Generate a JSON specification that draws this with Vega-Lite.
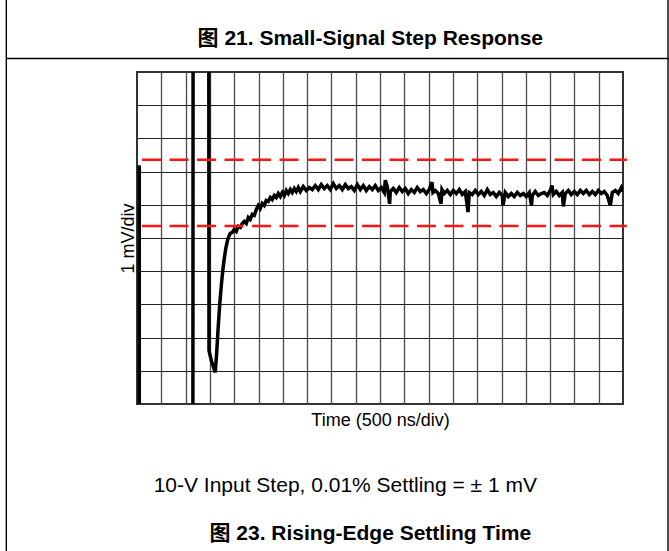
{
  "$schema": "https://vega.github.io/schema/vega-lite/v6.json",
  "width": 486,
  "height": 332,
  "autosize": {"type": "none"},
  "padding": {"left": 137, "top": 72, "right": 46, "bottom": 147},
  "background": "white",
  "config": {
    "view": {"stroke": "#333333", "strokeWidth": 2},
    "font": "Liberation Sans, Noto Sans CJK SC"
  },
  "data": {"values": [{"item": "annotation"}]},
  "datasets": {
    "trace": [
      {"t": 1.150, "mV": -7.0}, {"t": 1.154, "mV": 4.5}, {"t": 1.477, "mV": 4.5},
      {"t": 1.481, "mV": -4.75}, {"t": 1.529, "mV": -5.05}, {"t": 1.570, "mV": -5.23}, {"t": 1.611, "mV": -5.41},
      {"t": 1.642, "mV": -4.75}, {"t": 1.673, "mV": -3.99}, {"t": 1.704, "mV": -3.33}, {"t": 1.735, "mV": -2.79},
      {"t": 1.765, "mV": -2.34}, {"t": 1.796, "mV": -1.98}, {"t": 1.827, "mV": -1.67}, {"t": 1.858, "mV": -1.46},
      {"t": 1.889, "mV": -1.31}, {"t": 1.920, "mV": -1.22}, {"t": 1.961, "mV": -1.19}, {"t": 2.002, "mV": -1.10},
      {"t": 2.043, "mV": -1.16}, {"t": 2.084, "mV": -1.01}, {"t": 2.126, "mV": -1.04}, {"t": 2.167, "mV": -0.92},
      {"t": 2.208, "mV": -0.86}, {"t": 2.249, "mV": -0.92}, {"t": 2.290, "mV": -0.74}, {"t": 2.331, "mV": -0.80},
      {"t": 2.372, "mV": -0.65}, {"t": 2.414, "mV": -0.68}, {"t": 2.455, "mV": -0.50}, {"t": 2.496, "mV": -0.38},
      {"t": 2.537, "mV": -0.47}, {"t": 2.578, "mV": -0.32}, {"t": 2.619, "mV": -0.38}, {"t": 2.660, "mV": -0.23},
      {"t": 2.702, "mV": -0.26}, {"t": 2.743, "mV": -0.14}, {"t": 2.784, "mV": -0.20}, {"t": 2.825, "mV": -0.08},
      {"t": 2.866, "mV": -0.14}, {"t": 2.907, "mV": -0.02}, {"t": 2.949, "mV": -0.11}, {"t": 2.990, "mV": 0.01},
      {"t": 3.031, "mV": -0.08}, {"t": 3.072, "mV": 0.07}, {"t": 3.113, "mV": -0.02}, {"t": 3.154, "mV": 0.10},
      {"t": 3.195, "mV": 0.01}, {"t": 3.237, "mV": 0.13}, {"t": 3.278, "mV": 0.04}, {"t": 3.319, "mV": 0.16},
      {"t": 3.360, "mV": 0.04}, {"t": 3.422, "mV": 0.19}, {"t": 3.484, "mV": 0.07}, {"t": 3.545, "mV": 0.16},
      {"t": 3.607, "mV": 0.10}, {"t": 3.669, "mV": 0.22}, {"t": 3.730, "mV": 0.10}, {"t": 3.792, "mV": 0.25},
      {"t": 3.854, "mV": 0.13}, {"t": 3.916, "mV": 0.22}, {"t": 3.977, "mV": 0.10}, {"t": 4.039, "mV": 0.28},
      {"t": 4.101, "mV": 0.13}, {"t": 4.163, "mV": 0.22}, {"t": 4.224, "mV": 0.10}, {"t": 4.286, "mV": 0.25},
      {"t": 4.348, "mV": 0.13}, {"t": 4.409, "mV": 0.19}, {"t": 4.471, "mV": 0.07}, {"t": 4.533, "mV": 0.25},
      {"t": 4.595, "mV": 0.10}, {"t": 4.656, "mV": 0.22}, {"t": 4.718, "mV": 0.07}, {"t": 4.780, "mV": 0.19},
      {"t": 4.842, "mV": 0.10}, {"t": 4.903, "mV": 0.22}, {"t": 4.965, "mV": 0.07}, {"t": 5.027, "mV": 0.16},
      {"t": 5.088, "mV": 0.01}, {"t": 5.109, "mV": 0.38}, {"t": 5.150, "mV": 0.19}, {"t": 5.198, "mV": -0.33},
      {"t": 5.212, "mV": 0.04}, {"t": 5.274, "mV": 0.13}, {"t": 5.335, "mV": 0.01}, {"t": 5.397, "mV": 0.16},
      {"t": 5.459, "mV": 0.04}, {"t": 5.521, "mV": 0.13}, {"t": 5.582, "mV": -0.02}, {"t": 5.644, "mV": 0.10},
      {"t": 5.706, "mV": 0.01}, {"t": 5.767, "mV": 0.16}, {"t": 5.829, "mV": 0.04}, {"t": 5.891, "mV": 0.10},
      {"t": 5.953, "mV": -0.02}, {"t": 6.014, "mV": 0.10}, {"t": 6.070, "mV": 0.32}, {"t": 6.090, "mV": 0.01},
      {"t": 6.138, "mV": 0.07}, {"t": 6.200, "mV": -0.02}, {"t": 6.255, "mV": -0.33}, {"t": 6.275, "mV": 0.10},
      {"t": 6.323, "mV": -0.02}, {"t": 6.385, "mV": 0.07}, {"t": 6.447, "mV": -0.05}, {"t": 6.508, "mV": 0.07},
      {"t": 6.570, "mV": -0.02}, {"t": 6.632, "mV": 0.10}, {"t": 6.693, "mV": -0.05}, {"t": 6.755, "mV": 0.04},
      {"t": 6.811, "mV": -0.58}, {"t": 6.837, "mV": 0.01}, {"t": 6.899, "mV": -0.05}, {"t": 6.960, "mV": 0.07},
      {"t": 7.022, "mV": -0.05}, {"t": 7.084, "mV": 0.04}, {"t": 7.146, "mV": -0.08}, {"t": 7.208, "mV": 0.10},
      {"t": 7.269, "mV": -0.05}, {"t": 7.331, "mV": 0.01}, {"t": 7.393, "mV": -0.11}, {"t": 7.455, "mV": 0.01},
      {"t": 7.516, "mV": -0.08}, {"t": 7.531, "mV": -0.38}, {"t": 7.578, "mV": 0.01}, {"t": 7.640, "mV": -0.11},
      {"t": 7.702, "mV": -0.02}, {"t": 7.763, "mV": -0.11}, {"t": 7.825, "mV": 0.01}, {"t": 7.887, "mV": -0.08},
      {"t": 7.949, "mV": -0.02}, {"t": 8.010, "mV": -0.11}, {"t": 8.072, "mV": 0.01}, {"t": 8.117, "mV": -0.38},
      {"t": 8.134, "mV": -0.08}, {"t": 8.195, "mV": 0.04}, {"t": 8.257, "mV": -0.08}, {"t": 8.319, "mV": -0.02},
      {"t": 8.381, "mV": 0.01}, {"t": 8.442, "mV": -0.08}, {"t": 8.504, "mV": 0.07}, {"t": 8.539, "mV": 0.22},
      {"t": 8.566, "mV": -0.05}, {"t": 8.628, "mV": 0.04}, {"t": 8.689, "mV": -0.08}, {"t": 8.751, "mV": 0.01},
      {"t": 8.772, "mV": -0.41}, {"t": 8.813, "mV": -0.02}, {"t": 8.875, "mV": 0.07}, {"t": 8.936, "mV": -0.05},
      {"t": 8.998, "mV": 0.04}, {"t": 9.060, "mV": -0.05}, {"t": 9.122, "mV": 0.07}, {"t": 9.183, "mV": -0.02},
      {"t": 9.245, "mV": 0.07}, {"t": 9.307, "mV": -0.05}, {"t": 9.368, "mV": 0.04}, {"t": 9.430, "mV": -0.05},
      {"t": 9.492, "mV": 0.07}, {"t": 9.554, "mV": -0.02}, {"t": 9.615, "mV": 0.04}, {"t": 9.677, "mV": -0.08},
      {"t": 9.739, "mV": -0.38}, {"t": 9.780, "mV": 0.01}, {"t": 9.842, "mV": 0.07}, {"t": 9.903, "mV": -0.02},
      {"t": 9.965, "mV": 0.16}, {"t": 10.0, "mV": 0.04}
    ],
    "limits": [
      {"limit": "+0.01% (+1 mV)", "mV": 1.0},
      {"limit": "-0.01% (-1 mV)", "mV": -1.0}
    ]
  },
  "encoding": {
    "x": {
      "type": "quantitative",
      "scale": {"domain": [0, 10], "nice": false, "zero": false},
      "axis": {
        "title": "Time (500 ns/div)",
        "values": [0.5, 1, 1.5, 2, 2.5, 3, 3.5, 4, 4.5, 5, 5.5, 6, 6.5, 7, 7.5, 8, 8.5, 9, 9.5],
        "grid": true, "gridColor": "#4a4a4a", "gridWidth": 1.3,
        "domain": false, "ticks": false, "labels": false,
        "titleFont": "Liberation Sans", "titleFontSize": 18, "titleFontWeight": "normal",
        "titleColor": "#000000", "titlePadding": 7
      }
    },
    "y": {
      "type": "quantitative",
      "scale": {"domain": [-6.36, 3.64], "nice": false, "zero": false},
      "axis": {
        "title": "1 mV/div",
        "values": [-5.36, -4.36, -3.36, -2.36, -1.36, -0.36, 0.64, 1.64, 2.64],
        "grid": true, "gridColor": "#222222", "gridWidth": 1.2,
        "domain": false, "ticks": false, "labels": false,
        "titleFont": "Liberation Sans", "titleFontSize": 18, "titleFontWeight": "normal",
        "titleColor": "#000000", "titlePadding": 0
      }
    }
  },
  "layer": [
    {
      "data": {"name": "trace"},
      "mark": {"type": "line", "color": "#000000", "strokeWidth": 3.5, "clip": true, "interpolate": "linear"},
      "encoding": {
        "x": {"field": "t"},
        "y": {"field": "mV"}
      }
    },
    {
      "mark": {"type": "rule", "color": "#000000", "strokeWidth": 3.4},
      "encoding": {
        "x": {"datum": 0.047},
        "y": {"datum": 0.83},
        "y2": {"datum": -6.36}
      }
    },
    {
      "data": {"name": "limits"},
      "mark": {"type": "rule", "color": "#ff1414", "strokeWidth": 2.5, "strokeDash": [19, 8.5], "clip": false},
      "encoding": {
        "x": {"datum": 0.103},
        "x2": {"datum": 10.08},
        "y": {"field": "mV"}
      }
    },
    {
      "mark": {"type": "rule", "color": "#000000", "strokeWidth": 1.4},
      "encoding": {
        "x": {"datum": -2.689},
        "y": {"datum": 5.81},
        "y2": {"datum": -10.85}
      }
    },
    {
      "mark": {"type": "rule", "color": "#000000", "strokeWidth": 1.4},
      "encoding": {
        "x": {"datum": 10.926},
        "y": {"datum": 5.81},
        "y2": {"datum": -10.85}
      }
    },
    {
      "mark": {"type": "rule", "color": "#000000", "strokeWidth": 1.4},
      "encoding": {
        "x": {"datum": -2.689},
        "x2": {"datum": 10.95},
        "y": {"datum": 4.047}
      }
    },
    {
      "mark": {"type": "text", "text": "图 21. Small-Signal Step Response", "font": "Liberation Sans, Noto Sans CJK SC", "fontSize": 21, "fontWeight": "bold", "align": "center", "baseline": "alphabetic", "color": "#000000"},
      "encoding": {
        "x": {"datum": 4.80},
        "y": {"datum": 4.445}
      }
    },
    {
      "mark": {"type": "text", "text": "10-V Input Step, 0.01% Settling = ± 1 mV", "font": "Liberation Sans", "fontSize": 21, "fontWeight": "normal", "align": "center", "baseline": "alphabetic", "color": "#000000"},
      "encoding": {
        "x": {"datum": 4.286},
        "y": {"datum": -9.018}
      }
    },
    {
      "mark": {"type": "text", "text": "图 23. Rising-Edge Settling Time", "font": "Liberation Sans, Noto Sans CJK SC", "fontSize": 21, "fontWeight": "bold", "align": "center", "baseline": "alphabetic", "color": "#000000"},
      "encoding": {
        "x": {"datum": 4.80},
        "y": {"datum": -10.444}
      }
    }
  ]
}
